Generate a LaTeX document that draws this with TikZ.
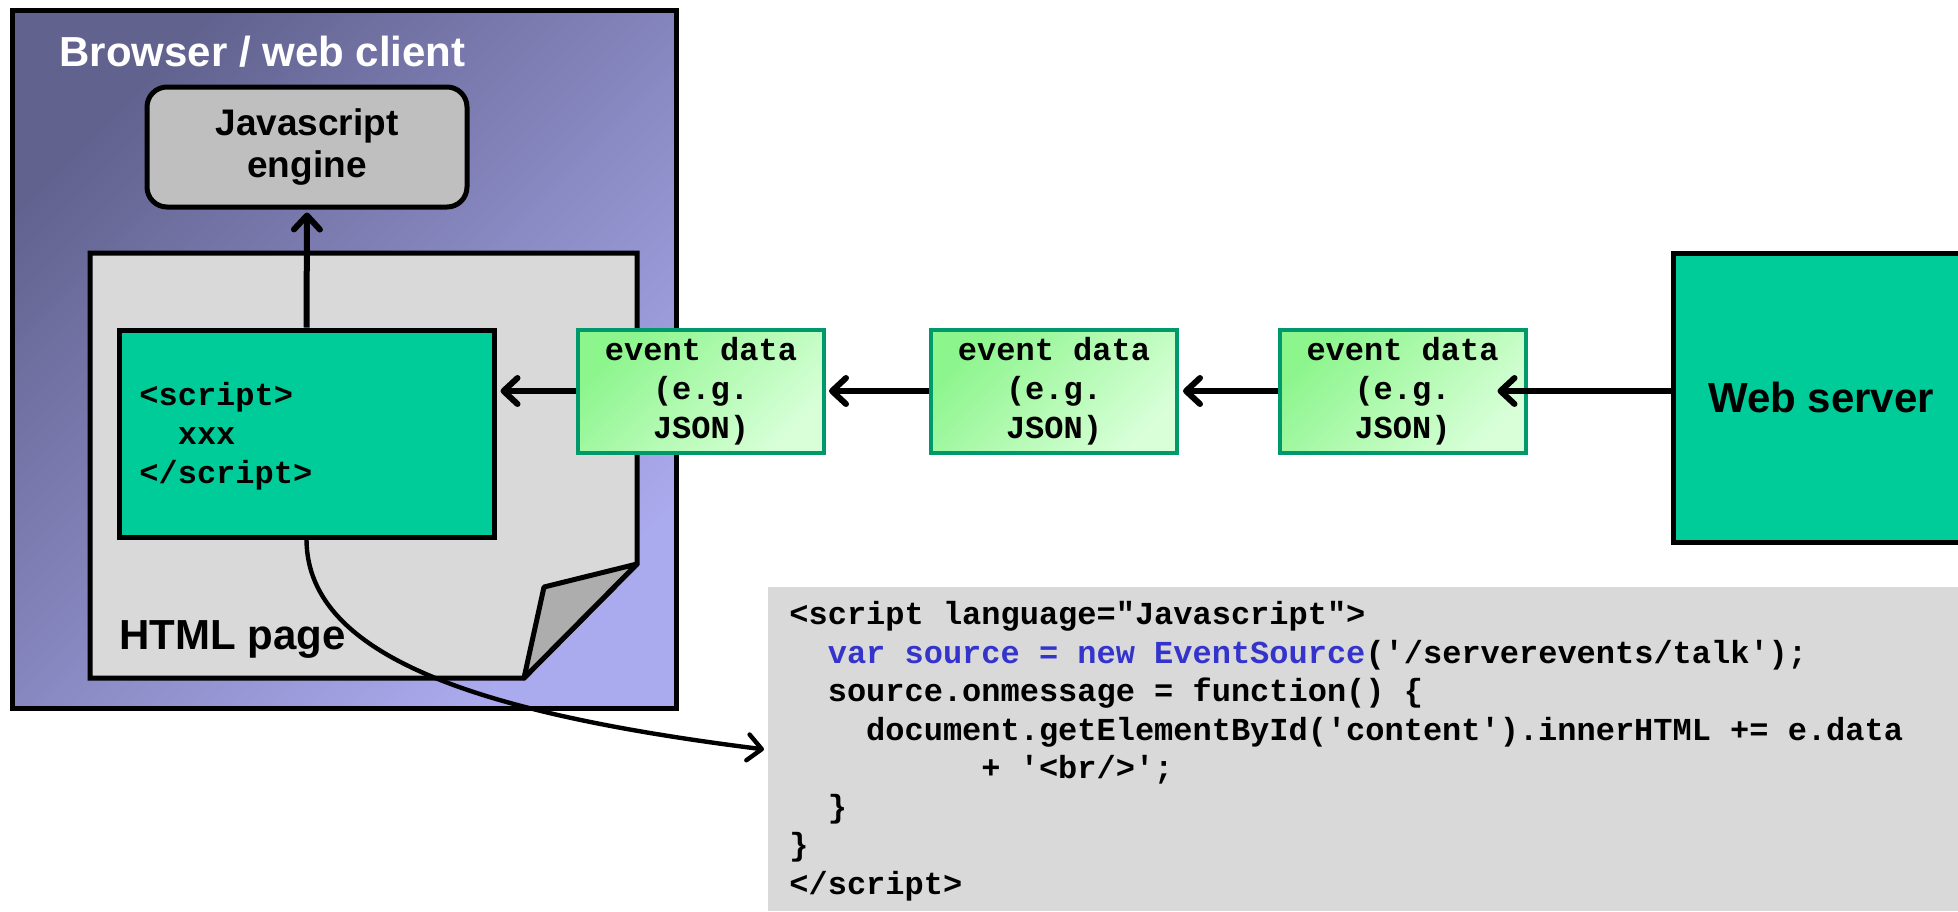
\documentclass[tikz,border=0pt]{standalone}
\usepackage{fontspec}
\setmainfont{Liberation Sans}
\setmonofont{Liberation Mono}
\usetikzlibrary{arrows.meta,calc}
\definecolor{tealfill}{HTML}{00CC99}
\definecolor{evborder}{HTML}{00996B}
\definecolor{evtop}{HTML}{8CF58C}
\definecolor{evbot}{HTML}{D8FFD8}
\definecolor{brdark}{HTML}{62628F}
\definecolor{brlight}{HTML}{AAAAEE}
\definecolor{jsgray}{HTML}{BFBFBF}
\definecolor{pagegray}{HTML}{D9D9D9}
\definecolor{foldgray}{HTML}{ADADAD}
\definecolor{codegray}{HTML}{D9D9D9}
\definecolor{codeblue}{HTML}{3434CC}
\begin{document}
\begin{tikzpicture}[x=0.5pt,y=-0.5pt,
  sansbig/.style={font=\bfseries\fontsize{21}{25}\selectfont},
  mono/.style={font=\ttfamily\bfseries\fontsize{16}{19.5}\selectfont},
  conn/.style={line width=3pt, -{Straight Barb[length=7pt,width=13pt,round]}},
  greenbox/.style={draw, line width=2.5pt, fill=tealfill},
  evbox/.style={draw=evborder, line width=2pt, top color=evtop, bottom color=evbot, shading angle=45,
    minimum width=123pt, minimum height=61.5pt, align=center, inner sep=0pt, mono},
]
\clip (0,0) rectangle (1958,911);
\useasboundingbox (0,0) rectangle (1958,911);

% browser
\draw[line width=2.5pt, top color=brdark, bottom color=brlight, shading angle=45] (12,10) rectangle (676,708);
\node[anchor=west, inner sep=0pt, text=white, sansbig] (title) at (59,52) {Browser / web client};

\node[draw, line width=2.5pt, fill=jsgray, rounded corners=10pt, minimum width=160pt, minimum height=60pt,
  align=center, font=\bfseries\fontsize{18.5}{21}\selectfont] (js) at (307,147) {Javascript\\engine};

% html page
\draw[line width=2.5pt, fill=pagegray] (90,253) -- (637,253) -- (637,564) -- (524,678) -- (90,678) -- cycle;
\draw[line width=2.5pt, fill=foldgray, line join=round] (637,564) -- (544,587) -- (524,678) -- cycle;
\node[anchor=west, inner sep=0pt, sansbig] (pagelabel) at (119,639) {HTML page};

\node[greenbox, minimum width=187.5pt, minimum height=103.5pt] (script) at (306.5,433.5) {};
\node[mono, anchor=west, align=left, inner sep=0pt] (scripttext) at (139,436) {<script>\\\phantom{xx}xxx\\</script>};

% event boxes
\node[evbox] (ev1) at (701,391) {event data\\(e.g.\\JSON)};
\node[evbox] (ev2) at (1054,391) {event data\\(e.g.\\JSON)};
\node[evbox] (ev3) at (1402.5,391) {event data\\(e.g.\\JSON)};

% web server
\node[greenbox, minimum width=148pt, minimum height=144.5pt, sansbig] (ws) at (1821,397.5) {Web server};

% code box
\node[fill=codegray, anchor=north west, minimum width=595pt, minimum height=162pt, inner sep=0pt] (code) at (768,587) {};
\node[anchor=west, align=left, inner sep=0pt, font=\ttfamily\bfseries\fontsize{16}{19.25}\selectfont] (codetext) at (789,751) {%
<script language="Javascript">\\
\phantom{xx}\textcolor{codeblue}{var source = new EventSource}('/serverevents/talk');\\
\phantom{xx}source.onmessage = function() \{\\
\phantom{xxxx}document.getElementById('content').innerHTML += e.data\\
\phantom{xxxxxxxxxx}+ '<br/>';\\
\phantom{xx}\}\\
\}\\
</script>};

% connectors
\draw[conn] (script.north) -- ([yshift=-1.5pt]js.south);
\draw[conn] (ws.west |- ev3.east) -- ($(ev3.east)+(-15pt,0)$);
\draw[conn] (ev3.west) -- ($(ev2.east)+(2pt,0)$);
\draw[conn] (ev2.west) -- ($(ev1.east)+(1.5pt,0)$);
\draw[conn] (ev1.west) -- ($(ev1.west -| script.east)+(2pt,0)$);
\draw[line width=2.2pt, -{Straight Barb[length=7pt,width=13pt,round]}] (script.south) .. controls (307,660) and (490,715) .. ([xshift=-2pt]code.west);
\end{tikzpicture}
\end{document}
